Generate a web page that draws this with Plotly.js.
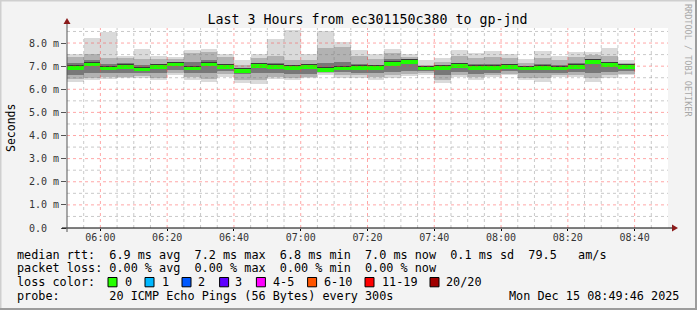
<!DOCTYPE html>
<html><head><meta charset="utf-8">
<script src="https://cdn.plot.ly/plotly-3.0.1.min.js"></script>
<style>html,body{margin:0;padding:0;background:#f3f3f3;}#chart{width:697px;height:310px;}</style>
</head><body><div id="chart"></div>
<script>
// ---- data (ms) ----
const startTimes = ["05:50","05:55","06:00","06:05","06:10","06:15","06:20","06:25","06:30","06:35",
  "06:40","06:45","06:50","06:55","07:00","07:05","07:10","07:15","07:20","07:25",
  "07:30","07:35","07:40","07:45","07:50","07:55","08:00","08:05","08:10","08:15",
  "08:20","08:25","08:30","08:35"];
const medianMs = [6.93,7.07,6.90,6.97,6.87,6.97,7.07,6.89,7.07,6.97,6.80,7.01,6.97,6.93,6.97,6.84,6.89,6.93,6.93,7.10,
  7.19,6.89,6.93,7.01,6.93,6.93,6.97,6.89,6.93,6.89,6.97,7.19,7.06,6.97];
const minMs = [6.33,6.40,6.43,6.47,6.50,6.40,6.62,6.40,6.30,6.55,6.28,6.23,6.44,6.40,6.47,6.62,6.50,6.50,6.40,6.47,
  6.58,6.62,6.29,6.54,6.40,6.54,6.62,6.40,6.33,6.54,6.54,6.33,6.47,6.62];
const maxMs = [7.53,8.23,8.46,7.45,7.74,7.45,7.38,7.71,7.74,7.51,7.27,7.53,8.17,8.58,7.53,8.50,8.06,7.71,7.51,7.74,
  7.51,7.25,7.36,7.71,7.56,7.66,7.51,7.31,7.66,7.45,7.60,7.63,7.80,7.27];
const p10Ms = [6.45,6.50,6.55,6.55,6.58,6.50,6.70,6.55,6.45,6.65,6.40,6.40,6.55,6.50,6.55,6.70,6.60,6.60,6.55,6.60,
  6.65,6.70,6.40,6.62,6.55,6.62,6.68,6.50,6.50,6.62,6.62,6.50,6.60,6.68];
const p90Ms = [7.38,7.54,7.34,7.35,7.30,7.30,7.30,7.55,7.60,7.40,7.05,7.35,7.45,7.25,7.25,7.80,7.85,7.45,7.30,7.55,
  7.40,7.05,7.20,7.45,7.35,7.40,7.35,7.15,7.35,7.25,7.40,7.50,7.45,7.15];
const p25Ms = [6.62,6.70,6.70,6.72,6.70,6.70,6.85,6.72,6.70,6.80,6.65,6.70,6.70,6.65,6.65,6.80,6.75,6.72,6.70,6.75,
  6.80,6.78,6.60,6.75,6.65,6.72,6.78,6.70,6.70,6.72,6.75,6.70,6.75,6.78];
const p75Ms = [7.15,7.25,7.10,7.12,7.05,7.10,7.15,7.20,7.25,7.10,6.90,7.10,7.15,7.05,7.05,7.15,7.20,7.10,7.05,7.30,
  7.30,6.95,7.05,7.15,7.10,7.10,7.10,7.00,7.10,7.05,7.15,7.30,7.20,7.05];
const yTickVals = [0,1,2,3,4,5,6,7,8];
const yTickText = ["0.0\u00A0\u00A0","1.0 m","2.0 m","3.0 m","4.0 m","5.0 m","6.0 m","7.0 m","8.0 m"];
const lossLabels = ["0","1","2","3","4-5","6-10","11-19","20/20"];
const lossColors = ["#26ff00","#00b8ff","#0059ff","#5e00ff","#ff00ff","#ff5500","#ff0000","#a00000"];
const legendRows = [
  "median rtt:  6.9 ms avg  7.2 ms max  6.8 ms min  7.0 ms now  0.1 ms sd  79.5   am/s",
  "packet loss: 0.00 % avg  0.00 % max  0.00 % min  0.00 % now",
  "loss color:",
  "probe:       20 ICMP Echo Pings (56 Bytes) every 300s"
];
const dateStamp = "Mon Dec 15 08:49:46 2025";

// ---- build ----
const day = "2025-12-15 ";
const xs = startTimes.map(t => day + t + ":00");
const W = 300000;
function band(lo, hi, color){
  return {type:"bar", x: xs, base: lo, y: hi.map((h,i)=>h-lo[i]), width: W, offset: 0, opacity: 1,
    marker:{color: color, opacity: 1, line:{width:0}}, hoverinfo:"skip", showlegend:false};
}
const traces = [
  band(minMs, maxMs, "#dadada"),
  band(p10Ms, p90Ms, "#b2b2b2"),
  band(p25Ms, p75Ms, "#787878"),
  {type:"bar", x: xs, base: medianMs.map(v=>v+0.07), y: medianMs.map(()=>0.045), width: W, offset: 0, opacity: 1,
    marker:{color: "#3a3a3a", opacity: 1, line:{width:0}}, hoverinfo:"skip", showlegend:false},
  {type:"bar", x: xs, base: medianMs.map(v=>v-0.075), y: medianMs.map(()=>0.145), width: W, offset: 0, opacity: 1,
    marker:{color: "#1eff00", opacity: 1, line:{width:0}}, hoverinfo:"skip", showlegend:false}
];

const L=67, R=668, T=28, B=228;
const xp = px => (px-L)/(R-L);
const yp = py => (B-py)/(B-T);
const mono = "DejaVu Sans Mono";
const nb = s => s.replace(/ /g,"\u00A0");
const yMax = (B-T)/23.12;

const annotations = [];
const shapes = [];
// grid drawn over the smoke, like rrdtool
const t0 = new Date(day.replace(" ","T") + "05:50:00Z").getTime();
const fmt = ms => { const d = new Date(ms); const p = n => String(n).padStart(2,"0");
  return day + p(d.getUTCHours()) + ":" + p(d.getUTCMinutes()) + ":00"; };
for (let m = 5; m < 180; m += 5) {
  const major = ((m + 50) % 20) === 0;
  shapes.push({type:"line", xref:"x", yref:"paper", x0: fmt(t0 + m*60000), x1: fmt(t0 + m*60000), y0: 0, y1: 1,
    layer:"above", line:{color: major ? "rgba(255,60,60,0.45)" : "rgba(120,120,120,0.4)", width:1, dash:"dot"}});
}
for (let v = 0.5; v < yMax; v += 0.5) {
  const major = Math.abs(v - Math.round(v)) < 1e-9;
  shapes.push({type:"line", xref:"paper", yref:"y", x0: 0, x1: 1, y0: v, y1: v,
    layer:"above", line:{color: major ? "rgba(255,60,60,0.45)" : "rgba(120,120,120,0.4)", width:1, dash:"dot"}});
}

const rowY = [255, 268.3, 282.2, 296.2];
legendRows.forEach((r,i)=>{
  annotations.push({xref:"paper", yref:"paper", x: xp(15), y: yp(rowY[i]), xanchor:"left", yanchor:"middle",
    text: nb(r), showarrow:false, font:{family:mono, size:11.8, color:"#000"}});
});
annotations.push({xref:"paper", yref:"paper", x: xp(681), y: yp(rowY[3]), xanchor:"right", yanchor:"middle",
  text: nb(dateStamp), showarrow:false, font:{family:mono, size:11.8, color:"#000"}});
const boxX = [108,145,182,219.6,256.4,307.6,365,430];
const labX = [123,160,196.4,233,271,322,380,444];
lossLabels.forEach((lab,i)=>{
  shapes.push({type:"rect", xref:"paper", yref:"paper", x0: xp(boxX[i]), x1: xp(boxX[i]+9), y0: yp(277.5), y1: yp(286.8),
    fillcolor: lossColors[i], line:{color:"#000", width:1}});
  annotations.push({xref:"paper", yref:"paper", x: xp(labX[i]), y: yp(rowY[2]), xanchor:"left", yanchor:"middle",
    text: nb(lab), showarrow:false, font:{family:mono, size:11.8, color:"#000"}});
});
annotations.push({xref:"paper", yref:"paper", x: xp(11), y: yp(128), xanchor:"center", yanchor:"middle",
  text:"Seconds", textangle:-90, showarrow:false, font:{family:mono, size:11.5, color:"#000"}});
annotations.push({xref:"paper", yref:"paper", x: xp(688), y: yp(60), xanchor:"center", yanchor:"middle",
  text: nb("RRDTOOL / TOBI OETIKER"), textangle:90, showarrow:false, font:{family:mono, size:8.5, color:"#a8a8a8"}});

// axis extensions and arrows
shapes.push({type:"line", xref:"paper", yref:"paper", x0: xp(62), x1: xp(672), y0: 0, y1: 0, line:{color:"#000", width:1}});
shapes.push({type:"line", xref:"paper", yref:"paper", x0: 0, x1: 0, y0: yp(232), y1: yp(22), line:{color:"#555", width:1}});
shapes.push({type:"path", xref:"paper", yref:"paper",
  path:`M ${xp(672)} ${yp(224.5)} L ${xp(678)} ${yp(228)} L ${xp(672)} ${yp(231.5)} Z`, fillcolor:"#8b1a1a", line:{width:0}});
shapes.push({type:"path", xref:"paper", yref:"paper",
  path:`M ${xp(63.5)} ${yp(24)} L ${xp(67)} ${yp(18)} L ${xp(70.5)} ${yp(24)} Z`, fillcolor:"#8b1a1a", line:{width:0}});
// frame
shapes.push({type:"line", xref:"paper", yref:"paper", x0: xp(0), x1: xp(697), y0: yp(0.5), y1: yp(0.5), line:{color:"#cfcfcf", width:2}});
shapes.push({type:"line", xref:"paper", yref:"paper", x0: xp(0.5), x1: xp(0.5), y0: yp(0), y1: yp(310), line:{color:"#cfcfcf", width:2}});
shapes.push({type:"line", xref:"paper", yref:"paper", x0: xp(0), x1: xp(697), y0: yp(309), y1: yp(309), line:{color:"#9c9c9c", width:2}});
shapes.push({type:"line", xref:"paper", yref:"paper", x0: xp(696), x1: xp(696), y0: yp(0), y1: yp(310), line:{color:"#9c9c9c", width:2}});

const layout = {
  width:697, height:310, margin:{l:L, r:697-R, t:T, b:310-B},
  paper_bgcolor:"#f3f3f3", plot_bgcolor:"#ffffff",
  barmode:"overlay", bargap:0, showlegend:false,
  title:{text:"Last 3 Hours from ec301150c380 to gp-jnd", x:0.5, xanchor:"center", xref:"paper",
    y: 1-19/310, yanchor:"middle", font:{family:mono, size:13.3, color:"#000"}},
  xaxis:{type:"date", range:[day+"05:50:00", day+"08:50:00"], tick0: day+"06:00:00", dtick:1200000,
    tickformat:"%H:%M", showgrid:false, ticks:"outside", ticklen:2, tickcolor:"#000", zeroline:false, showline:false,
    ticklabelstandoff:-2, tickfont:{family:mono, size:10, color:"#333"}, fixedrange:true},
  yaxis:{range:[0, yMax], tickvals:yTickVals, ticktext:yTickText, showgrid:false,
    ticks:"outside", ticklen:5, tickcolor:"#555", zeroline:false, showline:false,
    tickfont:{family:mono, size:10, color:"#333"}, fixedrange:true},
  annotations: annotations, shapes: shapes
};
Plotly.newPlot("chart", traces, layout, {displayModeBar:false, staticPlot:true});
</script></body></html>
